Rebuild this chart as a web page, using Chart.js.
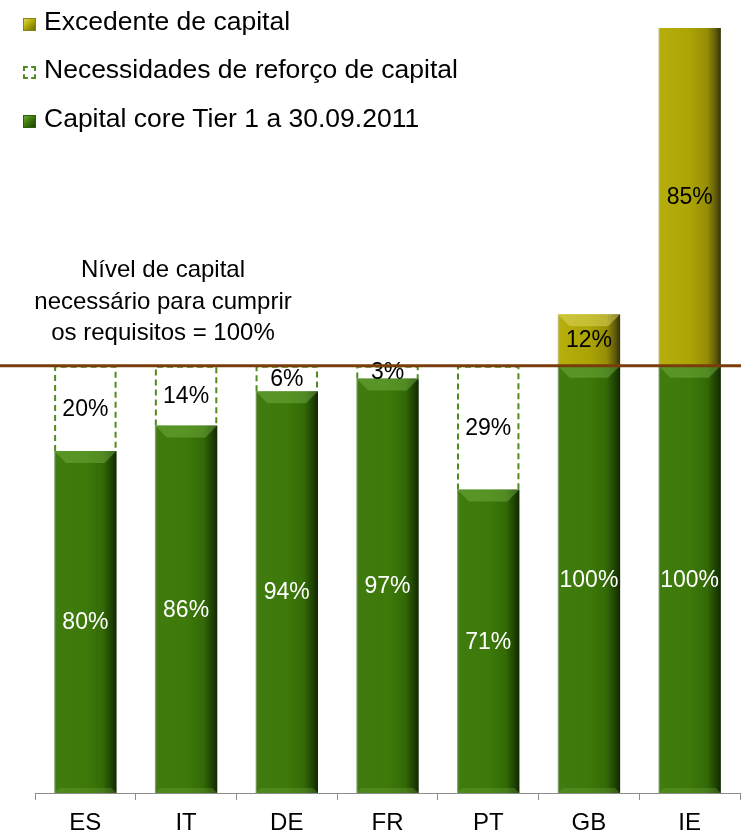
<!DOCTYPE html>
<html>
<head>
<meta charset="utf-8">
<script src="https://cdn.jsdelivr.net/npm/chart.js@4/dist/chart.umd.min.js"></script>
<style>
  body { margin: 0; background: #fff; }
  #wrap { position: relative; width: 741px; height: 835px; font-family: "Liberation Sans", Arial, sans-serif; color: #000; }
  #chart { position: absolute; left: 0; top: 0; }
  .leg { position: absolute; left: 23px; font-size: 26.5px; line-height: 30px; white-space: nowrap; }
  .leg i { display: inline-block; width: 13px; height: 13px; margin-right: 8px; box-sizing: border-box; vertical-align: -1px; }
  .ico-excess { background: linear-gradient(135deg, #e0da5a 0%, #b3ab08 45%, #6e6906 100%); border: 1px solid #8a8410; }
  .ico-needs { border: 2px dashed #4f8c1c; background: #fff; }
  .ico-core { background: linear-gradient(135deg, #6aa83a 0%, #3e7a0a 45%, #1d3f03 100%); border: 1px solid #2f5e08; }
  #note { position: absolute; left: -2px; top: 253px; width: 330px; text-align: center; font-size: 24px; line-height: 31.5px; }
</style>
</head>
<body>
<div id="wrap">
  <canvas id="chart" width="741" height="835"></canvas>
  <div class="leg" style="top:6px"><i class="ico-excess"></i>Excedente de capital</div>
  <div class="leg" style="top:54px"><i class="ico-needs"></i>Necessidades de reforço de capital</div>
  <div class="leg" style="top:103px"><i class="ico-core"></i>Capital core Tier 1 a 30.09.2011</div>
  <div id="note">Nível de capital<br>necessário para cumprir<br>os requisitos = 100%</div>
</div>
<script>
// countries and capital positions (% of the required level)
const countries = ["ES", "IT", "DE", "FR", "PT", "GB", "IE"];
const coreTier1 = [80, 86, 94, 97, 71, 100, 100];
const capitalNeeds = [20, 14, 6, 3, 29, null, null];
const capitalExcess = [null, null, null, null, null, 12, 85];
const requiredLevel = 100;

const BAR_PCT = 0.62;

const greenStops = [[0, "#9fb392"], [0.03, "#3f7b0e"], [0.5, "#3e7a0a"], [0.78, "#336a06"], [0.92, "#1e4203"], [1, "#122702"]];
const yellowStops = [[0, "#c9c8a8"], [0.03, "#b6ae0c"], [0.5, "#aca405"], [0.78, "#958e05"], [0.92, "#5f5a08"], [1, "#33310a"]];

// horizontal shading across each bar, placed from the category scale
function barFill(stops) {
  return (ctx) => {
    const xs = ctx.chart.scales.x;
    if (!xs || ctx.type !== "data") return stops[2][1];
    const cx = xs.getPixelForValue(ctx.dataIndex);
    const half = (xs.width / countries.length) * BAR_PCT / 2;
    if (!isFinite(cx) || !isFinite(half) || half <= 0) return stops[2][1];
    const g = ctx.chart.ctx.createLinearGradient(cx - half, 0, cx + half, 0);
    stops.forEach(([o, c]) => g.addColorStop(o, c));
    return g;
  };
}

// lighter bevel at top (and a thin one at the bottom) of the solid bars
const bevels = {
  id: "bevels",
  afterDatasetsDraw(chart) {
    const { ctx, chartArea } = chart;
    ctx.save();
    ctx.beginPath();
    ctx.rect(chartArea.left, chartArea.top, chartArea.right - chartArea.left, chartArea.bottom - chartArea.top);
    ctx.clip();
    [[0, "rgba(120,180,70,0.45)", true], [2, "rgba(230,225,110,0.45)", false]].forEach(([di, col, bottom]) => {
      chart.getDatasetMeta(di).data.forEach((el, i) => {
        if (chart.data.datasets[di].data[i] == null) return;
        const { x, y, base, width } = el.getProps(["x", "y", "base", "width"], true);
        const l = x - width / 2, r = x + width / 2, b = 12;
        ctx.fillStyle = col;
        ctx.beginPath();
        ctx.moveTo(l, y); ctx.lineTo(r, y); ctx.lineTo(r - b, y + b); ctx.lineTo(l + b, y + b);
        ctx.closePath();
        ctx.fill();
        if (bottom) {
          ctx.fillStyle = "rgba(110,160,60,0.35)";
          ctx.beginPath();
          ctx.moveTo(l, base); ctx.lineTo(r, base); ctx.lineTo(r - 5, base - 5); ctx.lineTo(l + 5, base - 5);
          ctx.closePath();
          ctx.fill();
        }
      });
    });
    ctx.restore();

    // dashed outline for the capital needs
    ctx.save();
    ctx.strokeStyle = "#4f8c1c";
    ctx.lineWidth = 2;
    ctx.setLineDash([6, 4]);
    chart.getDatasetMeta(1).data.forEach((el, i) => {
      if (capitalNeeds[i] == null) return;
      const { x, y, base, width } = el.getProps(["x", "y", "base", "width"], true);
      const l = x - width / 2 + 1, r = x + width / 2 - 1;
      ctx.beginPath();
      ctx.moveTo(l, base); ctx.lineTo(l, y + 1); ctx.lineTo(r, y + 1); ctx.lineTo(r, base);
      ctx.stroke();
    });
    ctx.restore();

    // value labels
    const colors = ["#fff", "#000", "#000"];
    ctx.save();
    ctx.font = "23px 'Liberation Sans', Arial, sans-serif";
    ctx.textAlign = "center";
    ctx.textBaseline = "middle";
    chart.data.datasets.forEach((ds, di) => {
      chart.getDatasetMeta(di).data.forEach((el, i) => {
        const v = ds.data[i];
        if (v == null) return;
        const { x, y, base } = el.getProps(["x", "y", "base"], true);
        const top = Math.max(y, chartArea.top);
        ctx.fillStyle = colors[di];
        ctx.fillText(v + "%", x, (top + base) / 2 + 1);
      });
    });
    ctx.restore();

    // required capital level
    const yl = chart.scales.y.getPixelForValue(requiredLevel);
    ctx.save();
    ctx.strokeStyle = "#7b3c0c";
    ctx.lineWidth = 3;
    ctx.beginPath();
    ctx.moveTo(0, yl);
    ctx.lineTo(chart.width, yl);
    ctx.stroke();
    ctx.restore();
  }
};

new Chart(document.getElementById("chart"), {
  type: "bar",
  data: {
    labels: countries,
    datasets: [
      { label: "Capital core Tier 1 a 30.09.2011", data: coreTier1, backgroundColor: barFill(greenStops), clip: 0 },
      { label: "Necessidades de reforço de capital", data: capitalNeeds, backgroundColor: "rgba(0,0,0,0)", clip: 0 },
      { label: "Excedente de capital", data: capitalExcess, backgroundColor: barFill(yellowStops), clip: 0 }
    ]
  },
  options: {
    responsive: false,
    animation: false,
    barPercentage: BAR_PCT,
    categoryPercentage: 1,
    layout: { padding: { left: 35, right: 1, top: 28, bottom: -11 } },
    plugins: { legend: { display: false }, tooltip: { enabled: false } },
    scales: {
      x: {
        stacked: true,
        border: { display: true, color: "#8c8c8c", width: 1 },
        grid: { display: true, drawOnChartArea: false, drawTicks: true, tickLength: 7, color: "#8c8c8c", offset: true },
        ticks: { color: "#000", padding: 11, font: { family: "'Liberation Sans', Arial, sans-serif", size: 24, lineHeight: 1 } }
      },
      y: { stacked: true, display: false, min: 0, max: 179 }
    }
  },
  plugins: [bevels]
});
</script>
</body>
</html>
